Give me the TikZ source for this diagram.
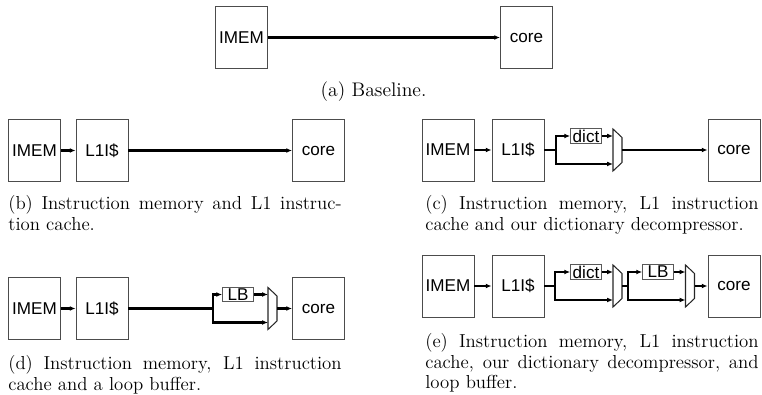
\documentclass[tikz,border=0pt]{standalone}
\usepackage{fontspec}
\setsansfont{Liberation Sans}
\usetikzlibrary{arrows.meta}
\tikzset{
  unit/.style={draw=black!70,line width=0.5pt,minimum width=30.4pt,minimum height=36.3pt,
    inner sep=0pt,font=\sffamily\fontsize{10}{12}\selectfont},
  part/.style={draw=black!65,line width=0.5pt,minimum width=18pt,inner xsep=1pt,inner ysep=0.7pt,
    font=\sffamily\fontsize{10}{12}\selectfont},
  wire/.style={line width=1.2pt},
  bus/.style={wire,-{Latex[length=3.4pt,width=2.8pt]}},
  capt/.style={text width=195pt,align=justify,inner sep=0pt,anchor=north west,
    font=\fontsize{11}{12.1}\selectfont},
  mux/.pic={
    \draw[black!85,line width=0.6pt,fill=white] (-4.5,-21) -- (4.5,-12.5) -- (4.5,12.5) -- (-4.5,21) -- cycle;
    \coordinate (-a) at (-4.5,-14); \coordinate (-b) at (-4.5,14); \coordinate (-o) at (4.5,0);
  }
}
\begin{document}
\begin{tikzpicture}[x=0.585pt,y=-0.585pt]
  \useasboundingbox (0,0) rectangle (762,395);
  % (a)
  \node[unit] (imemA) at (241.5,37.5) {IMEM};
  \node[unit] (coreA) at (526.5,37.5) {core};
  \draw[bus] (imemA) -- (coreA);
  \node[anchor=base,inner sep=0pt,font=\fontsize{11.5}{12.1}\selectfont] (captA) at (373.5,97) {(a) Baseline.};
  % (b)
  \node[unit] (imemB) at (34.5,150.5) {IMEM};
  \node[unit] (l1B) at (102,150.5) {L1I\$};
  \node[unit] (coreB) at (318.5,150.5) {core};
  \draw[bus] (imemB) -- (l1B); \draw[bus] (l1B) -- (coreB);
  \node[capt] (captB) at (8,195) {(b) Instruction memory and L1 instruc-\linebreak tion cache.};
  % (c)
  \node[unit] (imemC) at (448,150) {IMEM};
  \node[unit] (l1C) at (518,150) {L1I\$};
  \node[unit] (coreC) at (734,150) {core};
  \coordinate (brC) at (556,150);
  \node[part] (dictC) at (586,136) {dict};
  \pic (muxC) at (617.5,150) {mux};
  \draw[bus] (imemC) -- (l1C); \draw[wire] (l1C) -- (brC);
  \draw[bus] (brC) |- (dictC); \draw[bus] (brC) |- (muxC-b);
  \draw[bus] (dictC) -- (muxC-a); \draw[bus] (muxC-o) -- (coreC);
  \node[capt] (captC) at (425,195) {(c) Instruction memory, L1 instruction \linebreak cache and our dictionary decompressor.};
  % (d)
  \node[unit] (imemD) at (34.5,308.5) {IMEM};
  \node[unit] (l1D) at (102,308.5) {L1I\$};
  \node[unit] (coreD) at (318.5,308.5) {core};
  \coordinate (brD) at (213,308.5);
  \node[part] (lbD) at (238,294.5) {LB};
  \pic (muxD) at (272.5,308.5) {mux};
  \draw[bus] (imemD) -- (l1D); \draw[wire] (l1D) -- (brD);
  \draw[bus] (brD) |- (lbD); \draw[bus] (brD) |- (muxD-b);
  \draw[bus] (lbD) -- (muxD-a); \draw[bus] (muxD-o) -- (coreD);
  \node[capt] (captD) at (8,355) {(d) Instruction memory, L1 instruction \linebreak cache and a loop buffer.};
  % (e)
  \node[unit] (imemE) at (448,286) {IMEM};
  \node[unit] (l1E) at (518,286) {L1I\$};
  \node[unit] (coreE) at (734,286) {core};
  \coordinate (brE1) at (555,286); \coordinate (brE2) at (628,286);
  \node[part] (dictE) at (586,272) {dict};
  \node[part] (lbE) at (658,272) {LB};
  \pic (muxE1) at (617.5,286) {mux};
  \pic (muxE2) at (690,286) {mux};
  \draw[bus] (imemE) -- (l1E); \draw[wire] (l1E) -- (brE1);
  \draw[bus] (brE1) |- (dictE); \draw[bus] (brE1) |- (muxE1-b);
  \draw[bus] (dictE) -- (muxE1-a); \draw[wire] (muxE1-o) -- (brE2);
  \draw[bus] (brE2) |- (lbE); \draw[bus] (brE2) |- (muxE2-b);
  \draw[bus] (lbE) -- (muxE2-a); \draw[bus] (muxE2-o) -- (coreE);
  \node[capt] (captE) at (425,333) {(e) Instruction memory, L1 instruction \linebreak cache, our dictionary decompressor, and \linebreak loop buffer.};
\end{tikzpicture}
\end{document}
